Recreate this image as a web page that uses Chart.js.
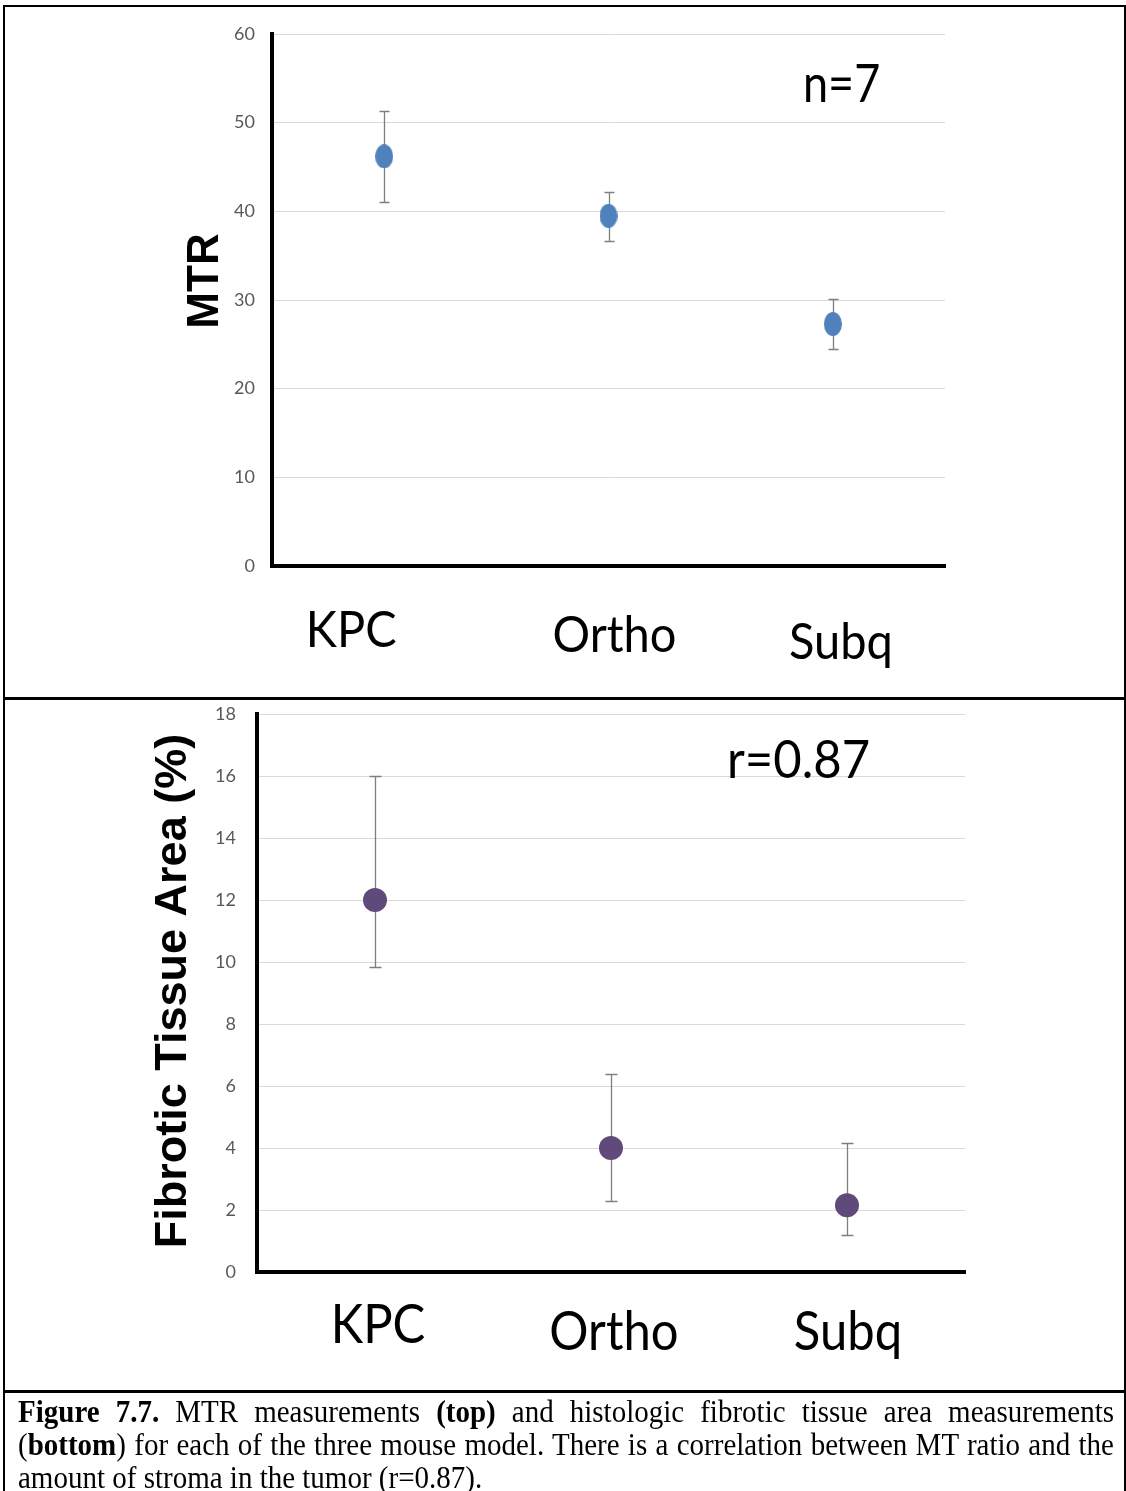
<!DOCTYPE html>
<html>
<head>
<meta charset="utf-8">
<script src="https://cdn.jsdelivr.net/npm/chart.js@4.4.0/dist/chart.umd.min.js"></script>
<style>
html, body { margin: 0; padding: 0; background: #fff; }
#page { position: relative; width: 1126px; height: 1491px; overflow: hidden; background: #fff; }
.rule { position: absolute; background: #000; z-index: 2; }
canvas { position: absolute; left: 0; }
#mtrChart { top: 0; }
#fibChart { top: 680px; }
#caption {
    position: absolute; left: 18px; top: 1395px; width: 1096px;
    font-family: "Liberation Serif", "Times New Roman", serif;
    font-size: 29px; line-height: 33px; color: #000;
}
#caption div { transform: scaleY(1.08); transform-origin: 0 50%; }
#caption .j { text-align: justify; text-align-last: justify; white-space: nowrap; }
#caption .l { text-align: left; }
</style>
</head>
<body>
<div id="page">
    <canvas id="mtrChart" width="1126" height="698"></canvas>
    <canvas id="fibChart" width="1126" height="710"></canvas>

    <div class="rule" style="left:3px;top:5px;width:1123px;height:2px;"></div>
    <div class="rule" style="left:3px;top:5px;width:2px;height:1486px;"></div>
    <div class="rule" style="left:1124px;top:5px;width:2px;height:1486px;"></div>
    <div class="rule" style="left:3px;top:697px;width:1123px;height:3px;"></div>
    <div class="rule" style="left:3px;top:1390px;width:1123px;height:3px;"></div>

    <div id="caption">
        <div class="j"><b>Figure 7.7.</b> MTR measurements <b>(top)</b> and histologic fibrotic tissue area measurements</div>
        <div class="j">(<b>bottom</b>) for each of the three mouse model. There is a correlation between MT ratio and the</div>
        <div class="l">amount of stroma in the tumor (r=0.87).</div>
    </div>
</div>

<script>
// ── Data ─────────────────────────────────────────────────────────────────────

const models = ['KPC', 'Ortho', 'Subq'];

const mtrMean  = [46.2, 39.5, 27.3];
const mtrUpper = [51.3, 42.2, 30.1];
const mtrLower = [41.1, 36.6, 24.5];
const mtrTicks = [0, 10, 20, 30, 40, 50, 60];

const fibMean  = [12.0, 4.0, 2.15];
const fibUpper = [16.0, 6.4, 4.15];
const fibLower = [9.85, 2.3, 1.2];
const fibTicks = [0, 2, 4, 6, 8, 10, 12, 14, 16, 18];

// ── Plugins ──────────────────────────────────────────────────────────────────

const errorBars = {
    id: 'errorBars',
    beforeDatasetsDraw(chart, args, opts) {
        const { ctx, scales: { x, y } } = chart;
        ctx.save();
        ctx.strokeStyle = opts.color;
        ctx.lineWidth = opts.width;
        opts.upper.forEach((hi, i) => {
            const px = Math.round(x.getPixelForValue(i)) + 0.5;
            const top = Math.round(y.getPixelForValue(hi)) + 0.5;
            const bot = Math.round(y.getPixelForValue(opts.lower[i])) + 0.5;
            ctx.beginPath();
            ctx.moveTo(px, top); ctx.lineTo(px, bot);
            ctx.moveTo(px - opts.cap, top); ctx.lineTo(px + opts.cap, top);
            ctx.moveTo(px - opts.cap, bot); ctx.lineTo(px + opts.cap, bot);
            ctx.stroke();
        });
        ctx.restore();
    }
};

function stretchedText(ctx, text, x, y, sy) {
    ctx.save();
    ctx.translate(x, y);
    ctx.scale(1, sy);
    ctx.fillText(text, 0, 0);
    ctx.restore();
}

// category names, corner note and rotated axis title
const panelText = {
    id: 'panelText',
    afterDraw(chart, args, o) {
        const { ctx, scales: { x } } = chart;
        ctx.save();
        ctx.fillStyle = '#000';
        ctx.textBaseline = 'alphabetic';

        ctx.font = o.catFont;
        ctx.textAlign = 'center';
        models.forEach((name, i) => {
            stretchedText(ctx, name, x.getPixelForValue(i) + o.catDx[i], o.catBase[i], o.catScale);
        });

        ctx.textAlign = 'left';
        ctx.font = o.noteFont;
        stretchedText(ctx, o.note, o.noteX, o.noteY, o.noteScale);

        ctx.font = o.titleFont;
        ctx.textAlign = 'center';
        ctx.translate(o.titleX, o.titleY);
        ctx.rotate(-Math.PI / 2);
        ctx.fillText(o.title, 0, 0);
        ctx.restore();
    }
};

// Excel draws the top markers slightly taller than wide
function ellipseMarker(w, h, color) {
    const c = document.createElement('canvas');
    c.width = w; c.height = h;
    const g = c.getContext('2d');
    g.fillStyle = color;
    g.beginPath();
    g.ellipse(w / 2, h / 2, w / 2, h / 2, 0, 0, Math.PI * 2);
    g.fill();
    return c;
}

// ── Shared chart builder ─────────────────────────────────────────────────────

function buildChart(id, cfg) {
    return new Chart(document.getElementById(id), {
        type: 'line',
        data: {
            labels: models,
            datasets: [{
                data: cfg.values,
                showLine: false,
                pointStyle: cfg.pointStyle,
                pointRadius: cfg.radius,
                pointBackgroundColor: cfg.color,
                pointBorderColor: cfg.color,
                pointBorderWidth: 0,
            }]
        },
        options: {
            responsive: false,
            animation: false,
            events: [],
            layout: { padding: cfg.padding },
            plugins: {
                legend: { display: false },
                tooltip: { enabled: false },
                errorBars: { upper: cfg.upper, lower: cfg.lower, color: '#7f7f7f', width: 1.3, cap: cfg.cap },
                panelText: cfg.text,
            },
            scales: {
                x: {
                    type: 'category',
                    offset: true,
                    grid: { display: false, drawTicks: false },
                    border: { display: true, color: '#000', width: 4 },
                    ticks: { display: false },
                    afterFit: s => { s.height = 0; },
                },
                y: {
                    min: cfg.ticks[0],
                    max: cfg.ticks[cfg.ticks.length - 1],
                    afterBuildTicks: s => { s.ticks = cfg.ticks.map(v => ({ value: v })); },
                    afterFit: s => { s.width = 60; },
                    grid: { color: '#d9d9d9', lineWidth: 1, drawTicks: false },
                    border: { display: true, color: '#000', width: 4 },
                    ticks: {
                        padding: cfg.tickPad,
                        color: '#595959',
                        font: { family: 'Lato', size: 18 },
                    },
                },
            },
        },
        plugins: [errorBars, panelText],
    });
}

// ── 1. MTR (top) ─────────────────────────────────────────────────────────────

buildChart('mtrChart', {
    values: mtrMean, upper: mtrUpper, lower: mtrLower, ticks: mtrTicks,
    color: '#4f81bd',
    pointStyle: ellipseMarker(18, 24, '#4f81bd'),
    radius: 10, cap: 5,
    padding: { left: 212, right: 181, top: 34, bottom: 132 },
    tickPad: 17,
    text: {
        catFont: '47px Lato', catDx: [-33, 6, 8], catBase: [647, 652, 659], catScale: 1.05,
        note: 'n=7', noteFont: '45px Lato', noteX: 803, noteY: 102, noteScale: 1.15,
        title: 'MTR', titleFont: 'bold 44px "Liberation Sans"', titleX: 218, titleY: 281,
    },
});

// ── 2. Fibrotic tissue area (bottom) ─────────────────────────────────────────

buildChart('fibChart', {
    values: fibMean, upper: fibUpper, lower: fibLower, ticks: fibTicks,
    color: '#604a7b',
    pointStyle: 'circle',
    radius: 12, cap: 6,
    padding: { left: 197, right: 161, top: 34, bottom: 118 },
    tickPad: 21,
    text: {
        catFont: '49px Lato', catDx: [3, 3, 1], catBase: [663, 670, 670], catScale: 1.1,
        note: 'r=0.87', noteFont: '49px Lato', noteX: 727, noteY: 98, noteScale: 1.05,
        title: 'Fibrotic Tissue Area (%)', titleFont: 'bold 45px "Liberation Sans"', titleX: 186, titleY: 311,
    },
});
</script>
</body>
</html>
